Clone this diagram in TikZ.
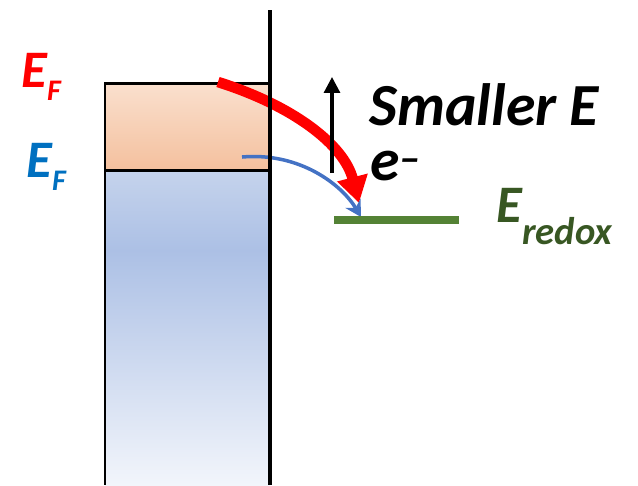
\documentclass[tikz,border=0pt]{standalone}
\usepackage{fontspec}
\setmainfont{Carlito}
\usetikzlibrary{arrows.meta}

\definecolor{orgtop}{RGB}{250,224,206}
\definecolor{orgbot}{RGB}{244,192,158}
\definecolor{blutop}{RGB}{197,211,236}
\definecolor{blumid}{RGB}{172,192,229}
\definecolor{blubot}{RGB}{242,245,251}
\definecolor{efblue}{RGB}{0,112,192}
\definecolor{arrblue}{RGB}{68,114,196}
\definecolor{redoxline}{RGB}{84,130,53}
\definecolor{redoxtext}{RGB}{56,87,35}

\tikzset{
  lbl/.style={anchor=base west,inner sep=0pt,font=\fontsize{30}{30}\selectfont\bfseries\itshape},
  note/.style={anchor=base west,inner sep=0pt,font=\fontsize{34}{34}\selectfont\bfseries\itshape}
}

\begin{document}
\begin{tikzpicture}[x=0.02cm,y=-0.02cm]
  \useasboundingbox (0,0) rectangle (638,485);
  % filled and empty states
  \shade[top color=orgtop,bottom color=orgbot] (105,83) rectangle (270,170);
  \shade[top color=blutop,bottom color=blumid] (105,170) rectangle (270,251);
  \shade[top color=blumid,bottom color=blubot] (105,250) rectangle (270,485);
  \draw[line width=1.7pt] (270,83) -- (105,83) -- (105,485);
  \draw[line width=1.7pt] (105,170) -- (270,170);
  % transfer arrows
  \coordinate (redstart) at (218,82);
  \coordinate (redtip) at (359,203);
  \coordinate (bluestart) at (242,157);
  \coordinate (bluetip) at (361,217);
  \draw[red,line width=6pt,-{Triangle[length=15pt,width=17pt]}] (redstart) .. controls (294,106) and (344,145) .. (redtip);
  \draw[arrblue,line width=2pt,-{Stealth[length=9pt,width=10pt]}] (bluestart) .. controls (300,152) and (342,185) .. (bluetip);
  \draw[line width=2.8pt] (270,10) -- (270,485);
  \coordinate (lowE) at (332,173);
  \coordinate (highE) at (332,77);
  \draw[line width=1.8pt,-{Triangle[length=9pt,width=9pt]}] (lowE) -- (highE);
  \draw[redoxline,line width=5pt] (334,220) -- (459,220);
  % labels
  \node[lbl,red] (efred) at (21,87) {E\raisebox{-7.4pt}{\fontsize{17}{17}\selectfont F}};
  \node[lbl,efblue] (efblue) at (26,177) {E\raisebox{-7.4pt}{\fontsize{17}{17}\selectfont F}};
  \node[lbl,redoxtext] (eredox) at (496,222) {E\raisebox{-13pt}{\fontsize{22}{22}\selectfont redox}};
  \node[note] (smaller) at (369,125) {Smaller E};
  \node[note] (elec) at (370,180) {e\raisebox{4pt}{\fontsize{24}{24}\selectfont –}};
\end{tikzpicture}
\end{document}
